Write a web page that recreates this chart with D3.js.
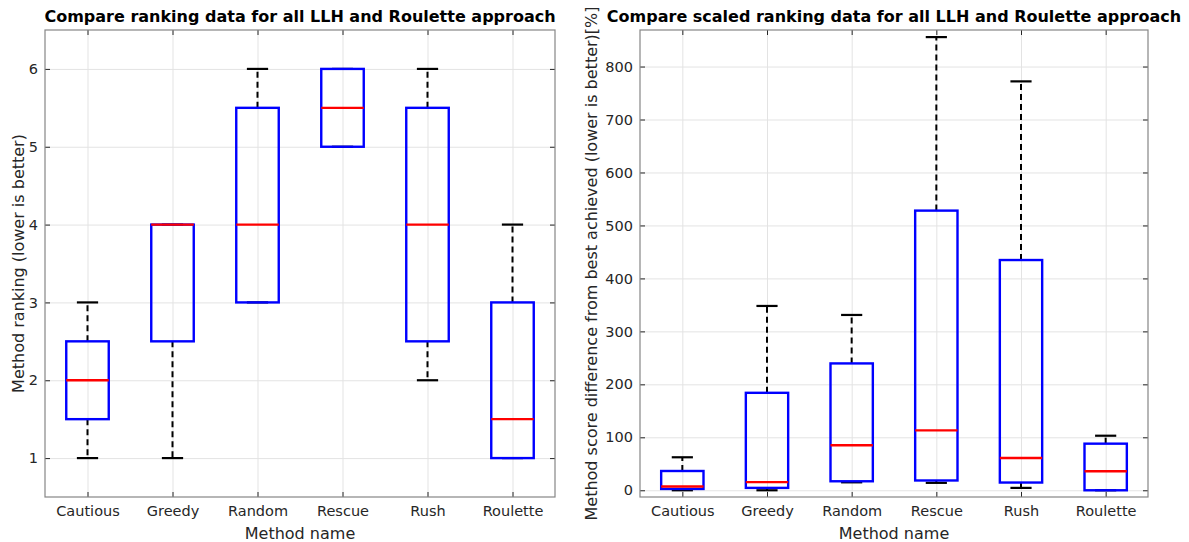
<!DOCTYPE html>
<html>
<head>
<meta charset="utf-8">
<script src="https://cdn.jsdelivr.net/npm/d3@7"></script>
<style>
  body { margin: 0; background: #fff; }
  svg text { font-family: "DejaVu Sans", sans-serif; fill: #262626; }
  .axis path { display: none; }
  .axis line { stroke: #262626; }
  .grid line { stroke: #e3e3e3; }
  .grid path { display: none; }
</style>
</head>
<body>
<svg id="chart" width="1189" height="542"></svg>
<script>
// categories
var methods = ["Cautious", "Greedy", "Random", "Rescue", "Rush", "Roulette"];

// left panel: ranking
var rankLower = [1, 1, 3, 5, 2, 1];
var rankQ1 = [1.5, 2.5, 3, 5, 2.5, 1];
var rankMedian = [2, 4, 4, 5.5, 4, 1.5];
var rankQ3 = [2.5, 4, 5.5, 6, 5.5, 3];
var rankUpper = [3, 4, 6, 6, 6, 4];
var rankTicks = [1, 2, 3, 4, 5, 6];

// right panel: scaled ranking [%]
var scaledLower = [0, 0, 15, 14, 4.5, 0];
var scaledQ1 = [2.5, 4.5, 17, 18.5, 14.6, 0];
var scaledMedian = [7, 15.4, 85, 113, 61, 36];
var scaledQ3 = [36.4, 184, 239.5, 528, 434.7, 88];
var scaledUpper = [62.3, 348, 331, 855.6, 772, 103];
var scaledTicks = [0, 100, 200, 300, 400, 500, 600, 700, 800];

var svg = d3.select("#chart");

function drawPanel(opt) {
  var left = opt.left, right = opt.right, top = 30, bottom = 497;
  var w = right - left, h = bottom - top;

  var x = d3.scalePoint().domain(methods).range([0, w]).padding(0.5);
  var y = d3.scaleLinear().domain(opt.yDomain).range([h, 0]);
  var boxW = x.step() * 0.5;

  var rows = methods.map(function (m, i) {
    return { name: m, lo: opt.lower[i], q1: opt.q1[i], med: opt.median[i], q3: opt.q3[i], hi: opt.upper[i] };
  });

  var g = svg.append("g").attr("transform", "translate(" + left + "," + top + ")");

  // grid
  g.append("g").attr("class", "grid")
    .call(d3.axisLeft(y).tickValues(opt.ticks).tickSize(-w).tickFormat(""));
  g.append("g").attr("class", "grid")
    .attr("transform", "translate(0," + h + ")")
    .call(d3.axisBottom(x).tickSize(-h).tickFormat(""));

  // axes with inward ticks
  g.append("g").attr("class", "axis")
    .call(d3.axisLeft(y).tickValues(opt.ticks).tickFormat(d3.format("d")).tickSize(-5).tickPadding(7))
    .selectAll("text").style("font-size", "14.5px");
  g.append("g").attr("class", "axis")
    .attr("transform", "translate(" + w + ",0)")
    .call(d3.axisRight(y).tickValues(opt.ticks).tickSize(-5).tickFormat(""));
  g.append("g").attr("class", "axis")
    .attr("transform", "translate(0," + h + ")")
    .call(d3.axisBottom(x).tickSize(-5).tickPadding(9))
    .selectAll("text").style("font-size", "14.5px");
  g.append("g").attr("class", "axis")
    .call(d3.axisTop(x).tickSize(-5).tickFormat(""));

  g.append("rect")
    .attr("width", w).attr("height", h)
    .attr("fill", "none").attr("stroke", "#868686").attr("stroke-width", 1.2);

  var box = g.selectAll(".box").data(rows).enter().append("g")
    .attr("transform", function (d) { return "translate(" + x(d.name) + ",0)"; });

  // whiskers
  box.append("line")
    .attr("y1", function (d) { return y(d.q3); }).attr("y2", function (d) { return y(d.hi); })
    .attr("stroke", "#000").attr("stroke-width", 2).attr("stroke-dasharray", "6,4");
  box.append("line")
    .attr("y1", function (d) { return y(d.q1); }).attr("y2", function (d) { return y(d.lo); })
    .attr("stroke", "#000").attr("stroke-width", 2).attr("stroke-dasharray", "6,4");

  // caps
  ["hi", "lo"].forEach(function (k) {
    box.append("line")
      .attr("x1", -boxW / 4).attr("x2", boxW / 4)
      .attr("y1", function (d) { return y(d[k]); }).attr("y2", function (d) { return y(d[k]); })
      .attr("stroke", "#000").attr("stroke-width", 2.2);
  });

  // box
  box.append("rect")
    .attr("x", -boxW / 2).attr("width", boxW)
    .attr("y", function (d) { return y(d.q3); })
    .attr("height", function (d) { return y(d.q1) - y(d.q3); })
    .attr("fill", "none").attr("stroke", "#0000ff").attr("stroke-width", 2.4);

  // median
  box.append("line")
    .attr("x1", -boxW / 2).attr("x2", boxW / 2)
    .attr("y1", function (d) { return y(d.med); }).attr("y2", function (d) { return y(d.med); })
    .attr("stroke", "#ff0000").attr("stroke-width", 2.4);

  // title and labels
  g.append("text")
    .attr("x", w / 2).attr("y", -8)
    .attr("text-anchor", "middle")
    .style("font-size", "16px").style("font-weight", "bold").style("fill", "#000")
    .text(opt.title);
  g.append("text")
    .attr("x", w / 2).attr("y", h + 42)
    .attr("text-anchor", "middle")
    .style("font-size", "16px")
    .text("Method name");
  g.append("text")
    .attr("transform", "translate(" + opt.yLabelX + "," + (h / 2) + ") rotate(-90)")
    .attr("text-anchor", "middle")
    .style("font-size", "16px")
    .text(opt.yLabel);
}

drawPanel({
  left: 45, right: 555,
  yDomain: [0.5, 6.5], ticks: rankTicks,
  lower: rankLower, q1: rankQ1, median: rankMedian, q3: rankQ3, upper: rankUpper,
  title: "Compare ranking data for all LLH and Roulette approach",
  yLabel: "Method ranking (lower is better)", yLabelX: -21
});

drawPanel({
  left: 640, right: 1148,
  yDomain: [-12.7, 869], ticks: scaledTicks,
  lower: scaledLower, q1: scaledQ1, median: scaledMedian, q3: scaledQ3, upper: scaledUpper,
  title: "Compare scaled ranking data for all LLH and Roulette approach",
  yLabel: "Method score difference from best achieved (lower is better)[%]", yLabelX: -43
});
</script>
</body>
</html>
